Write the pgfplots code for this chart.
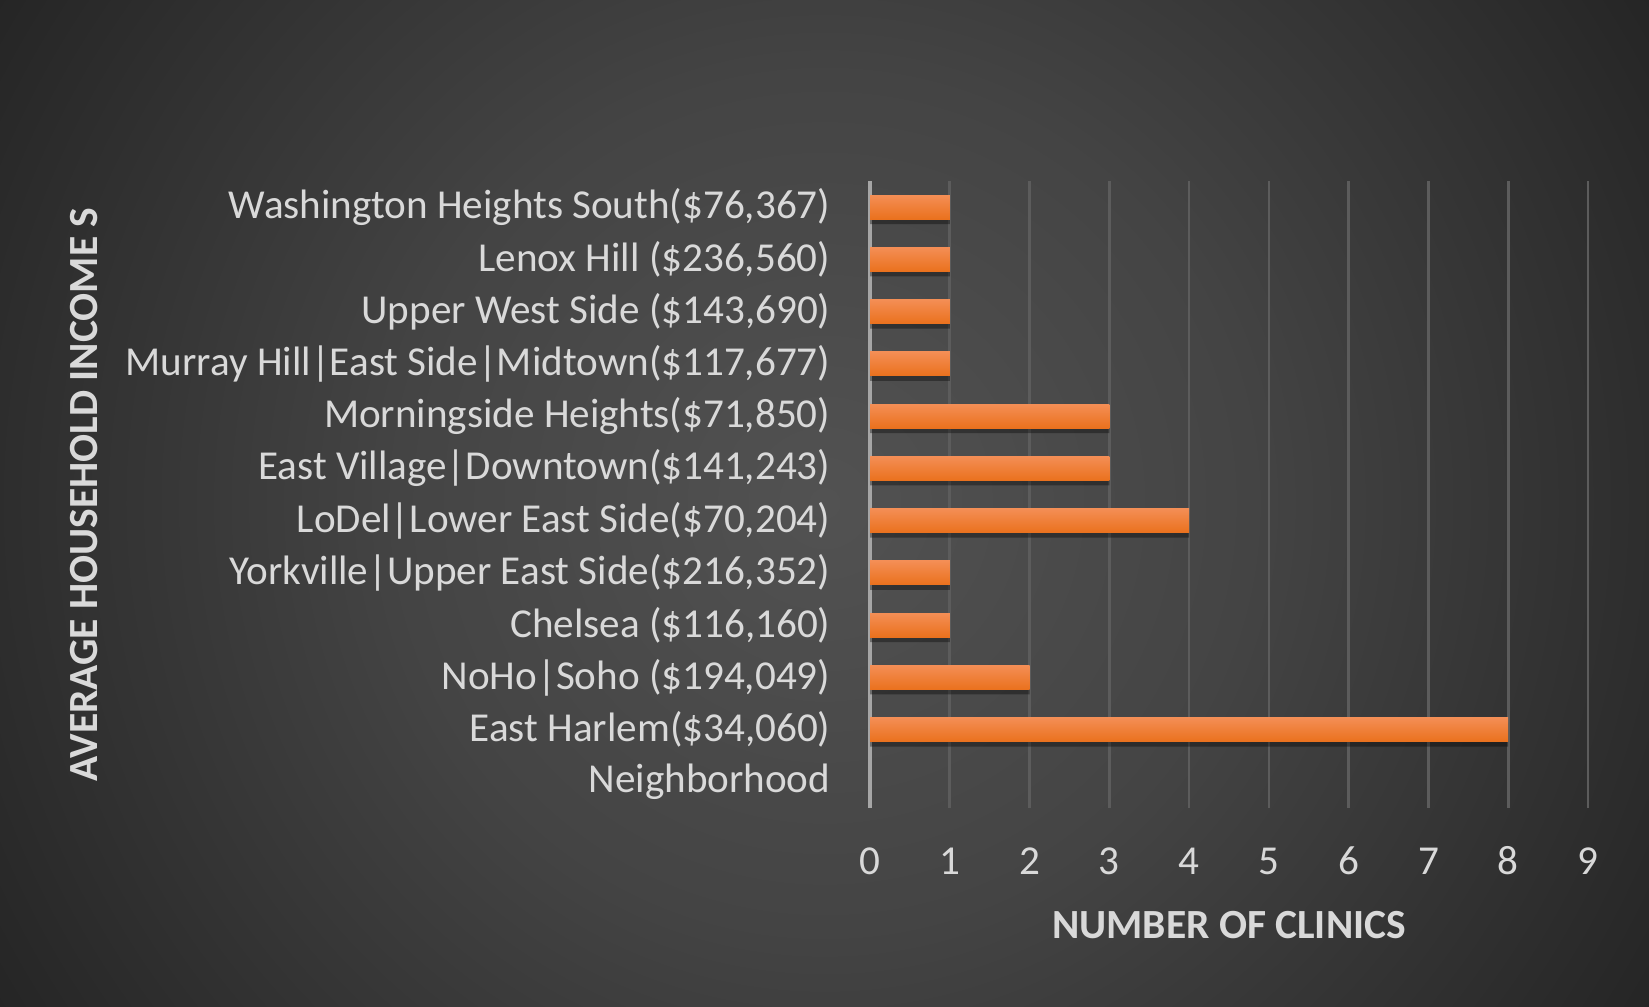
\documentclass[border=0pt]{standalone}
\usepackage{fontspec}
\setmainfont{Carlito}
\usepackage{pgfplots}
\pgfplotsset{compat=1.18}
\definecolor{bgin}{HTML}{525252}
\definecolor{bgmid}{HTML}{444444}
\definecolor{bgout}{HTML}{252525}
\definecolor{bartop}{HTML}{F48E55}
\definecolor{barbot}{HTML}{EA711D}
\definecolor{gridc}{HTML}{5C5C5C}
\definecolor{axisc}{HTML}{A6A6A6}
\definecolor{txt}{HTML}{D9D9D9}
\pgfdeclareradialshading{bgshade}{\pgfpoint{0bp}{0bp}}{color(0bp)=(bgin); color(11bp)=(bgmid); color(25bp)=(bgout); color(50bp)=(bgout)}
\pgfplotsset{
  barstyle/.style={draw=none, top color=bartop, bottom color=barbot, bar shift=0pt, forget plot},
  shadowstyle/.style={draw=none, fill=black, opacity=0.35, bar shift=-0.5mm, forget plot},
}
\begin{document}
\begin{tikzpicture}
\begin{scope}
\clip (0,0) rectangle (164.9mm,100.6mm);
\fill[bgout] (0,0) rectangle (164.9mm,100.6mm);
\shade[shading=bgshade] (82.45mm,50.3mm) circle (97mm);
\end{scope}
\begin{axis}[
  at={(87mm,19.8mm)}, anchor=south west,
  scale only axis, width=71.8mm, height=62.7mm,
  xmin=0, xmax=9, ymin=-0.5, ymax=11.5,
  xtick={0,...,9}, ytick={0,...,11},
  yticklabels={
    {Neighborhood},
    {East Harlem(\$34,060)},
    {NoHo|Soho (\$194,049)},
    {Chelsea (\$116,160)},
    {Yorkville|Upper East Side(\$216,352)},
    {LoDel|Lower East Side(\$70,204)},
    {East Village|Downtown(\$141,243)},
    {Morningside Heights(\$71,850)},
    {Murray Hill|East Side|Midtown(\$117,677)},
    {Upper West Side (\$143,690)},
    {Lenox Hill (\$236,560)},
    {Washington Heights South(\$76,367)}},
  axis lines=left,
  x axis line style={draw=none},
  y axis line style={-, draw=axisc, line width=1.3pt},
  major tick length=0pt,
  xmajorgrids, grid style={gridc, line width=0.75pt},
  /pgf/number format/assume math mode=true,
  tick label style={text=txt, font=\fontsize{11.7}{14}\selectfont},
  xticklabel style={anchor=center, yshift=-5.3mm},
  yticklabel style={anchor=east, inner sep=0pt, xshift=-3.9mm},
  xlabel={NUMBER OF CLINICS},
  ylabel={AVERAGE HOUSEHOLD INCOME S},
  every axis x label/.style={at={(axis description cs:0.5,-0.1866)}, anchor=center, text=txt, font=\bfseries\fontsize{11.8}{14}\selectfont},
  every axis y label/.style={at={(axis description cs:-1.0947,0.5)}, anchor=center, rotate=90, text=txt, font=\bfseries\fontsize{11.8}{14}\selectfont},
  xbar, bar width=2.4mm,
]
\addplot[shadowstyle] coordinates {
(8,1) (2,2) (1,3) (1,4) (4,5) (3,6) (3,7) (1,8) (1,9) (1,10) (1,11)};
\addplot[barstyle] coordinates {(8,1)};
\addplot[barstyle] coordinates {(2,2)};
\addplot[barstyle] coordinates {(1,3)};
\addplot[barstyle] coordinates {(1,4)};
\addplot[barstyle] coordinates {(4,5)};
\addplot[barstyle] coordinates {(3,6)};
\addplot[barstyle] coordinates {(3,7)};
\addplot[barstyle] coordinates {(1,8)};
\addplot[barstyle] coordinates {(1,9)};
\addplot[barstyle] coordinates {(1,10)};
\addplot[barstyle] coordinates {(1,11)};
\end{axis}
\end{tikzpicture}
\end{document}
